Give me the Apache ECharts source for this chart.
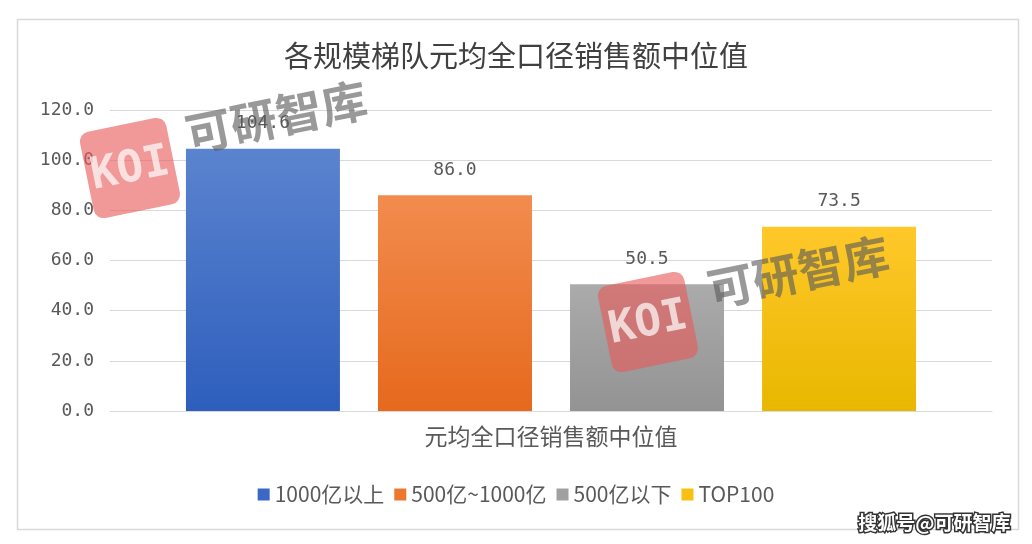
<!DOCTYPE html>
<html>
<head>
<meta charset="utf-8">
<script src="https://cdn.jsdelivr.net/npm/echarts@6/dist/echarts.min.js"></script>
<style>
html,body{margin:0;padding:0;background:#fff;}
#c{width:1032px;height:544px;}
</style>
</head>
<body>
<div id="c"></div>
<script>
var titleText = '各规模梯队元均全口径销售额中位值';
var categories = ['元均全口径销售额中位值'];
var seriesNames = ['1000亿以上', '500亿~1000亿', '500亿以下', 'TOP100'];
var values1000Plus = [104.6];
var values500to1000 = [86.0];
var values500Minus = [50.5];
var valuesTop100 = [73.5];
var yTicks = [0, 20, 40, 60, 80, 100, 120];

var seriesValues = [values1000Plus, values500to1000, values500Minus, valuesTop100];
var gradients = [
  ['#5b84cf', '#2e5ebd'],
  ['#f28c4e', '#e6691d'],
  ['#ababab', '#939393'],
  ['#ffc82a', '#e8b700']
];
var legendColors = ['#3a68c4', '#ec772f', '#a0a0a0', '#f7c012'];

var chart = echarts.init(document.getElementById('c'));
var font = '"Noto Sans CJK SC", "Noto Sans", sans-serif';

function watermark(cx, cy, tx, ty) {
  return [
    { type: 'rect', x: cx, y: cy, rotation: 0.2, z: 100, zlevel: 1,
      shape: { x: -44, y: -44, width: 88, height: 88, r: 10 },
      style: { fill: 'rgba(232,90,90,0.62)' } },
    { type: 'text', x: cx, y: cy, rotation: 0.2, z: 101, zlevel: 1,
      style: { x: 0, y: 2, text: 'KOI', fill: 'rgba(255,255,255,0.7)',
        font: 'bold 44px "DejaVu Sans Mono", monospace', align: 'center', verticalAlign: 'middle' } },
    { type: 'text', x: tx, y: ty, rotation: 0.2, z: 100, zlevel: 1,
      style: { text: '可研智库', fill: 'rgba(90,90,90,0.62)',
        font: 'bold 46px "Noto Sans CJK SC", sans-serif', align: 'left', verticalAlign: 'middle' } }
  ];
}

var option = {
  backgroundColor: '#fff',
  animation: false,
  title: {
    text: titleText, left: 'center', top: 36,
    textStyle: { fontSize: 29, fontWeight: 'normal', color: '#404040', fontFamily: font }
  },
  legend: {
    bottom: 34, left: 'center',
    itemWidth: 12, itemHeight: 12, itemGap: 10,
    icon: 'rect',
    textStyle: { fontSize: 21, color: '#595959', fontFamily: font },
    data: seriesNames.map(function (n, i) { return { name: n, itemStyle: { color: legendColors[i] } }; })
  },
  grid: { left: 110, right: 40, top: 110, bottom: 133, containLabel: false },
  xAxis: {
    type: 'category', data: categories,
    axisLine: { show: true, lineStyle: { color: '#d9d9d9', width: 1 } },
    axisTick: { show: false },
    axisLabel: { fontSize: 23, color: '#595959', fontFamily: font, margin: 14 }
  },
  yAxis: {
    type: 'value', min: 0, max: 120, interval: 20,
    axisLine: { show: false }, axisTick: { show: false },
    splitLine: { lineStyle: { color: '#d9d9d9', width: 1 } },
    axisLabel: { fontSize: 18, color: '#595959', fontFamily: '"DejaVu Sans Mono", monospace', margin: 16,
      formatter: function (v) { return yTicks.indexOf(v) >= 0 ? v.toFixed(1) : ''; } }
  },
  series: seriesValues.map(function (vals, i) {
    return {
      name: seriesNames[i], type: 'bar', data: vals,
      barWidth: 154, barGap: '24.7%',
      itemStyle: { color: new echarts.graphic.LinearGradient(0, 0, 0, 1, [
        { offset: 0, color: gradients[i][0] }, { offset: 1, color: gradients[i][1] }]) },
      label: { show: true, position: 'top', distance: 16, fontSize: 18, color: '#595959',
        fontFamily: '"DejaVu Sans Mono", monospace',
        formatter: function (p) { return p.value.toFixed(1); } }
    };
  }),
  graphic: [
    { type: 'rect', shape: { x: 17.5, y: 19.5, width: 1001, height: 510 },
      style: { fill: 'none', stroke: '#d9d9d9', lineWidth: 1.5 }, z: -1 },
    { type: 'text', right: 20, bottom: 10, z: 110, zlevel: 1,
      style: { text: '搜狐号@可研智库', fill: '#ffffff', font: 'bold 19px "Noto Sans CJK SC", sans-serif',
        stroke: '#333', lineWidth: 3 } }
  ].concat(watermark(130, 168, 186, 135)).concat(watermark(648, 322, 708, 290))
};
chart.setOption(option);
</script>
</body>
</html>
